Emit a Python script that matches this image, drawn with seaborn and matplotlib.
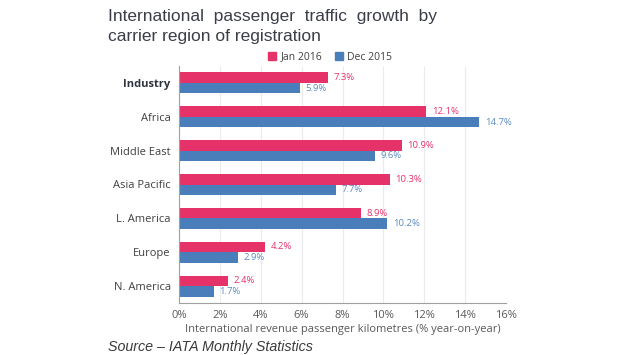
import pandas as pd
import seaborn as sns
import matplotlib.pyplot as plt
from matplotlib.patches import Patch

regions = ["Industry", "Africa", "Middle East", "Asia Pacific", "L. America", "Europe", "N. America"]
jan_2016 = [7.3, 12.1, 10.9, 10.3, 8.9, 4.2, 2.4]
dec_2015 = [5.9, 14.7, 9.6, 7.7, 10.2, 2.9, 1.7]
series = ["Jan 2016", "Dec 2015"]
xticks = [0, 2, 4, 6, 8, 10, 12, 14, 16]

df = pd.DataFrame({
    "region": regions * 2,
    "series": [series[0]] * len(regions) + [series[1]] * len(regions),
    "value": jan_2016 + dec_2015,
})

pink = "#E5336A"
blue = "#4A7EBB"
grey = "#595959"

sns.set_style("white")
plt.rcParams['font.family'] = ['Open Sans', 'DejaVu Sans']

fig = plt.figure(figsize=(6.2, 3.55), dpi=100)
ax = fig.add_axes([179 / 620, 1 - 303 / 355, 327 / 620, 237 / 355])

sns.barplot(data=df, y="region", x="value", hue="series", order=regions,
            hue_order=series, palette=[pink, blue], orient="h", width=0.62,
            saturation=1, linewidth=0, ax=ax, legend=False)

# value labels
for cont, col in zip(ax.containers, [pink, "#5A8AC4"]):
    ax.bar_label(cont, labels=[f"{v.get_width():.1f}%" for v in cont],
                 padding=4, fontsize=6.8, color=col)

ax.set_xlim(0, 16)
ax.set_xticks(xticks)
ax.set_xticklabels([f"{t}%" for t in xticks], fontsize=8, color=grey)
ax.set_ylim(6.5, -0.5)
ax.set_ylabel("")
ax.set_xlabel("International revenue passenger kilometres (% year-on-year)",
              fontsize=8, color=grey, labelpad=2)
ax.tick_params(axis="y", length=0, labelsize=8, labelcolor="#404040", pad=6)
ax.tick_params(axis="x", length=4, color="#A0A0A0", direction="inout", pad=3)
for lab in ax.get_yticklabels():
    if lab.get_text() == "Industry":
        lab.set_fontweight("bold")
        lab.set_color("#2f3340")

ax.xaxis.grid(True, color="#EBEBEB", linewidth=0.8)
ax.set_axisbelow(True)
for s in ["top", "right"]:
    ax.spines[s].set_visible(False)
ax.spines["left"].set_color("#A0A0A0")
ax.spines["bottom"].set_color("#A0A0A0")

# legend
handles = [Patch(color=pink, label=series[0]), Patch(color=blue, label=series[1])]
fig.legend(handles=handles, loc="center", bbox_to_anchor=(330 / 620, 1 - 57 / 355),
           ncol=2, frameon=False, fontsize=7.5, handlelength=0.8, handleheight=0.8,
           handletextpad=0.4, columnspacing=1.2, labelcolor="#404040")

fig.text(108 / 620, 1 - 16 / 355, "International  passenger  traffic  growth  by",
         fontsize=12.5, color="#3b3d48", family="Liberation Sans", va="center")
fig.text(108 / 620, 1 - 37 / 355, "carrier region of registration",
         fontsize=12.5, color="#3b3d48", family="Liberation Sans", va="center")
fig.text(108 / 620, 1 - 347 / 355, "Source \u2013 IATA Monthly Statistics",
         fontsize=10.3, color="#3a3a3a", family="Liberation Sans", style="italic",
         va="center")

fig.savefig("out.png", dpi=100, facecolor="white")
